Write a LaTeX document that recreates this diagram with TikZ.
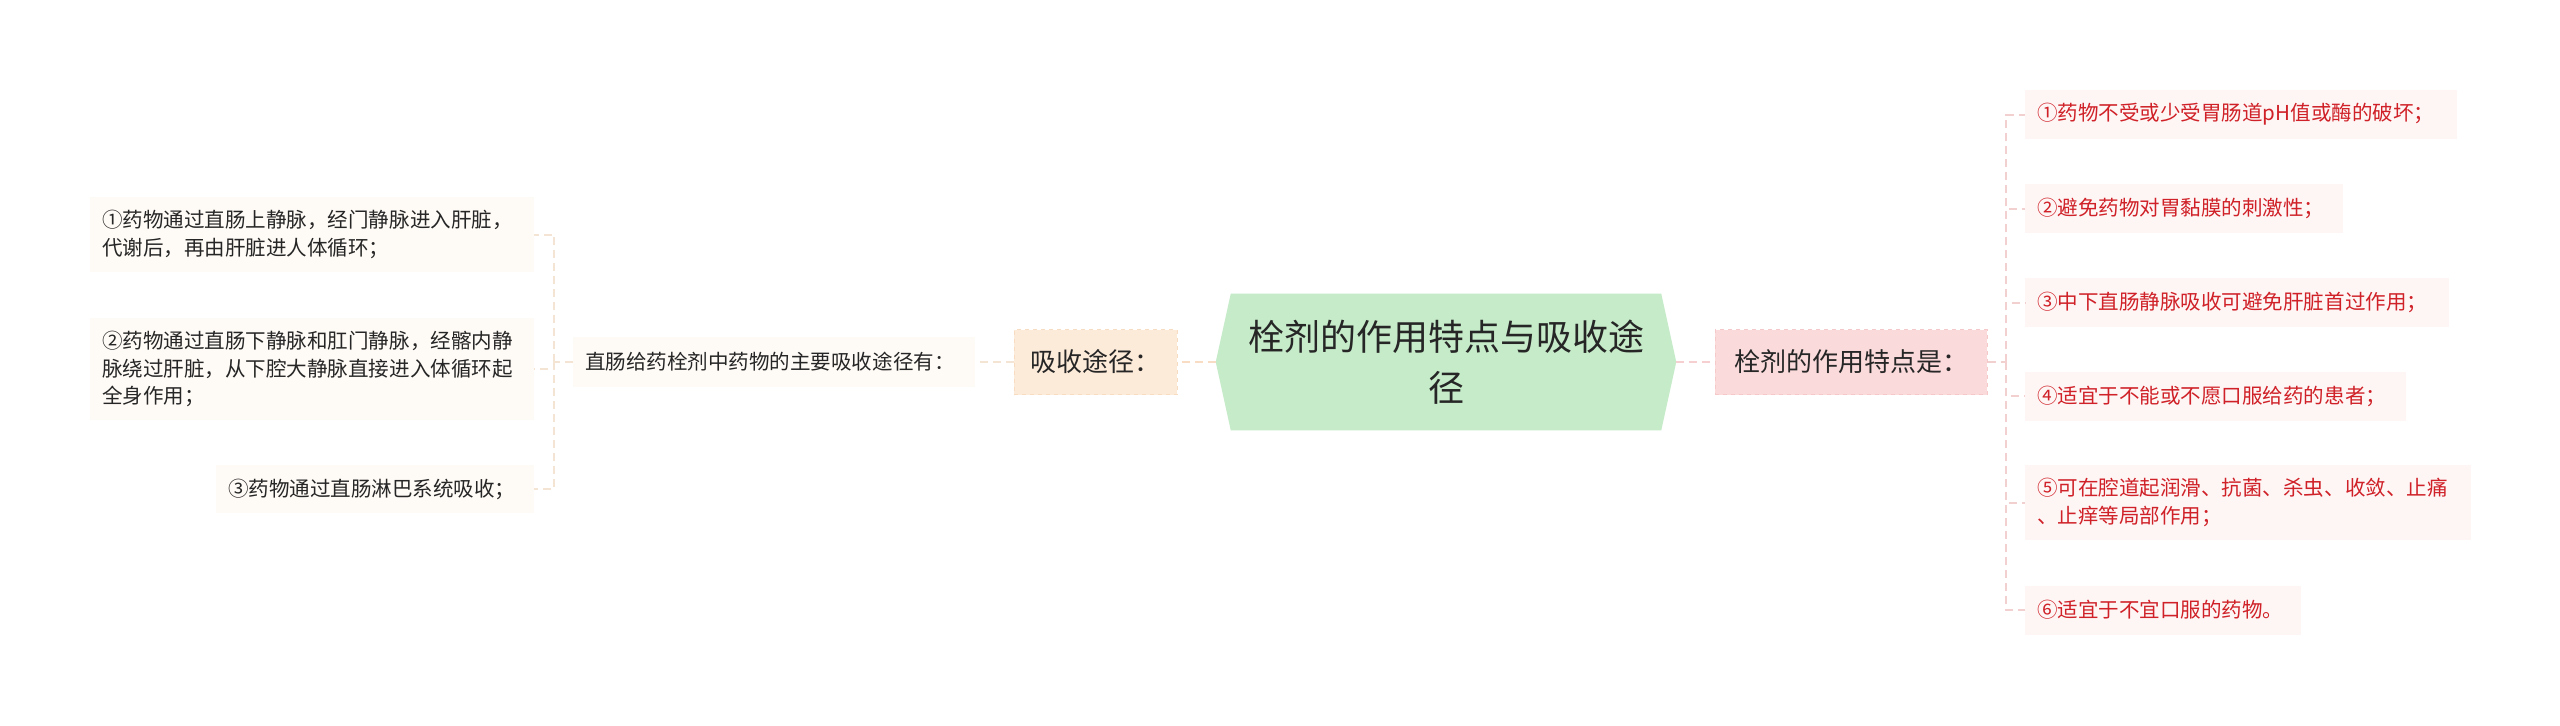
\documentclass[tikz,border=0pt]{standalone}
\usepackage{fontspec}
\setmainfont{Noto Sans CJK SC}
\usetikzlibrary{backgrounds}
\definecolor{centralfill}{HTML}{C6EBC9}
\definecolor{afill}{HTML}{FDEBDA}
\definecolor{aborder}{HTML}{F8DCC2}
\definecolor{bfill}{HTML}{FADADB}
\definecolor{bborder}{HTML}{F5C8C9}
\definecolor{leafLfill}{HTML}{FEFAF5}
\definecolor{leafRfill}{HTML}{FEF5F5}
\definecolor{lineA}{HTML}{F8DCC4}
\definecolor{lineL}{HTML}{F3E4D4}
\definecolor{lineB}{HTML}{F6D0D0}
\definecolor{lineR}{HTML}{F2D0D0}
\definecolor{textdark}{HTML}{262626}
\definecolor{textred}{HTML}{CF2127}
\begin{document}
\begin{tikzpicture}[x=0.75pt,y=-0.75pt,
  leafbase/.style={rectangle, inner xsep=9pt, inner ysep=0pt, align=left,
    font=\fontsize{15.4}{20.6}\selectfont, minimum height=36.75pt},
  leafL/.style={leafbase, fill=leafLfill, text=textdark},
  leafR/.style={leafbase, fill=leafRfill, text=textred},
  secbox/.style={rectangle, dashed, line width=0.75pt, text=textdark,
    font=\fontsize{19.5}{24}\selectfont, minimum height=48.75pt, inner sep=0pt},
  secA/.style={secbox, fill=afill, draw=aborder, minimum width=122.25pt},
  secB/.style={secbox, fill=bfill, draw=bborder, minimum width=204pt},
  central/.style={rectangle, inner sep=0pt, align=center, text=textdark,
    font=\fontsize{27}{38}\selectfont, minimum width=345pt, minimum height=102pt},
  conn/.style={line width=1.5pt, dash pattern=on 6pt off 3.75pt},
]
% nodes
\node[central] (C) at (1446,362) {栓剂的作用特点与吸收途\\径};
\node[secA] (A) at (1095.5,362) {吸收途径：};
\node[secB] (B) at (1851,362) {栓剂的作用特点是：};
\node[leafL, text width=283.5pt, minimum height=37.5pt] (M) at (774,362) {直肠给药栓剂中药物的主要吸收途径有：};
\node[leafL, text width=315pt, minimum height=56.25pt] (L1) at (312,234.5) {①药物通过直肠上静脉，经门静脉进入肝脏，\\代谢后，再由肝脏进人体循环；};
\node[leafL, text width=315pt, minimum height=76.5pt] (L2) at (312,369) {②药物通过直肠下静脉和肛门静脉，经髂内静\\脉绕过肝脏，从下腔大静脉直接进入体循环起\\全身作用；};
\node[leafL, text width=220.5pt, minimum height=36pt] (L3) at (375,489) {③药物通过直肠淋巴系统吸收；};
\node[leafR, text width=306pt] (R1) at (2241,114.5) {①药物不受或少受胃肠道pH值或酶的破坏；};
\node[leafR, text width=220.5pt] (R2) at (2184,208.5) {②避免药物对胃黏膜的刺激性；};
\node[leafR, text width=300pt] (R3) at (2237,302.5) {③中下直肠静脉吸收可避免肝脏首过作用；};
\node[leafR, text width=267.75pt] (R4) at (2215.5,396) {④适宜于不能或不愿口服给药的患者；};
\node[leafR, text width=316.5pt, minimum height=56.25pt] (R5) at (2248,502.5) {⑤可在腔道起润滑、抗菌、杀虫、收敛、止痛\\、止痒等局部作用；};
\node[leafR, text width=189pt] (R6) at (2163,610) {⑥适宜于不宜口服的药物。};
% background and central hexagon
\begin{scope}[on background layer]
\path[use as bounding box, fill=white] (0,0) rectangle (2560,725);
\fill[centralfill] (C.west) -- ([xshift=11.25pt]C.north west) -- ([xshift=-11.25pt]C.north east)
  -- (C.east) -- ([xshift=-11.25pt]C.south east) -- ([xshift=11.25pt]C.south west) -- cycle;
\end{scope}
% junctions
\coordinate (jl) at (554,362);
\coordinate (jr) at (2006,362);
% connectors
\draw[conn, lineA] (C.west) -- (A.east);
\draw[conn, lineL] (A.west) -- (M.east);
\draw[conn, lineL] (M.west) -- (jl);
\draw[conn, lineL] (jl) |- (L1.east);
\draw[conn, lineL] (jl) |- (L2.east);
\draw[conn, lineL] (jl) |- (L3.east);
\draw[conn, lineB] (C.east) -- (B.west);
\draw[conn, lineR] (B.east) -- (jr);
\draw[conn, lineR] (jr) |- (R1.west);
\draw[conn, lineR] (jr) |- (R2.west);
\draw[conn, lineR] (jr) |- (R3.west);
\draw[conn, lineR] (jr) |- (R4.west);
\draw[conn, lineR] (jr) |- (R5.west);
\draw[conn, lineR] (jr) |- (R6.west);
\end{tikzpicture}
\end{document}
